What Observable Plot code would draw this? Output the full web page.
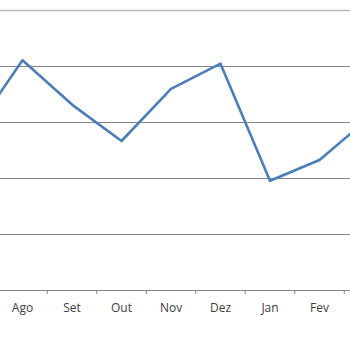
<!DOCTYPE html>
<html>
<head>
<meta charset="utf-8">
<script src="https://cdn.jsdelivr.net/npm/d3@7"></script>
<script src="https://cdn.jsdelivr.net/npm/@observablehq/plot@0.6"></script>
<style>
  html, body { margin: 0; padding: 0; background: #fff; overflow: hidden; }
  #chart svg { display: block; }
</style>
</head>
<body>
<div id="chart"></div>
<script>
// Month categories (Portuguese); first and last are only partly visible
const months = ["Jul", "Ago", "Set", "Out", "Nov", "Dez", "Jan", "Fev", "Mar"];
// Series values (arbitrary units, one gridline per unit)
const values = [2.83, 4.11, 3.32, 2.67, 3.60, 4.05, 1.96, 2.33, 3.08];
// Gridline values
const gridValues = [1, 2, 3, 4];
const topGrid = [5];
// Visible tick labels (indices into months)
const labelTicks = [1, 2, 3, 4, 5, 6, 7];
// Category boundaries for tick marks
const boundaryTicks = [0.5, 1.5, 2.5, 3.5, 4.5, 5.5, 6.5, 7.5];

const data = months.map((m, i) => ({i, month: m, value: values[i]}));

const chart = Plot.plot({
  width: 350,
  height: 350,
  marginTop: 10,
  marginBottom: 60,
  marginLeft: 0,
  marginRight: 0,
  style: {fontFamily: "'Open Sans', sans-serif", fontSize: "12px", color: "#404040", background: "#fff"},
  x: {type: "linear", domain: [0, 8], range: [-27.5, 368.5]},
  y: {domain: [0, 5], axis: null},
  marks: [
    Plot.ruleY(gridValues, {stroke: "#868686", strokeWidth: 1, strokeOpacity: 1}),
    Plot.ruleY(topGrid, {stroke: "#b8b8b8", strokeWidth: 1.5, strokeOpacity: 1}),
    Plot.ruleY([0], {stroke: "#868686", strokeWidth: 1}),
    Plot.axisX({ticks: boundaryTicks, tickSize: 4, tickFormat: () => "", stroke: "#868686", strokeOpacity: 1, label: null}),
    Plot.axisX({ticks: labelTicks, tickSize: 0, tickPadding: 13, tickFormat: i => months[i], fill: "#404040", label: null}),
    Plot.line(data, {x: "i", y: "value", stroke: "#4a7ebb", strokeWidth: 2.6, clip: true})
  ]
});
document.getElementById("chart").appendChild(chart);
</script>
</body>
</html>
